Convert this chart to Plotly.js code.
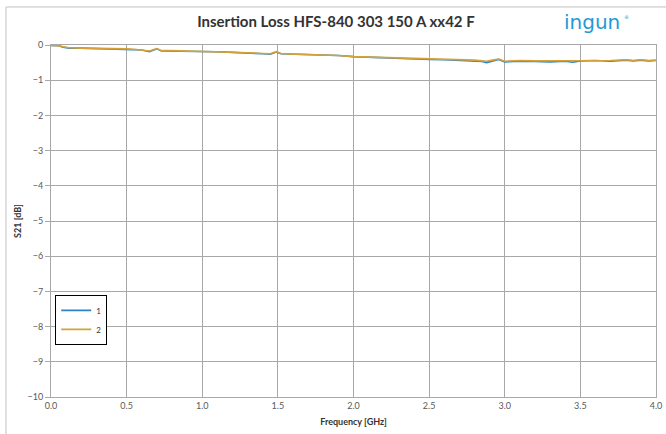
<!DOCTYPE html>
<html><head><meta charset="utf-8">
<script src="https://cdn.plot.ly/plotly-3.0.1.min.js"></script>
<style>html,body{margin:0;padding:0;background:#fff;}#chart{width:666px;height:434px;}</style>
</head><body><div id="chart"></div>
<script>
const freq = [0.0,0.05,0.08,0.12,0.2,0.3,0.4,0.5,0.55,0.6,0.65,0.7,0.73,0.8,0.9,1.0,1.1,1.2,1.3,1.4,1.45,1.49,1.52,1.6,1.7,1.8,1.9,2.0,2.1,2.2,2.3,2.4,2.5,2.6,2.7,2.8,2.85,2.88,2.92,2.96,3.0,3.05,3.1,3.2,3.3,3.4,3.45,3.5,3.6,3.7,3.8,3.85,3.9,3.95,4.0];
const s21_1 = [-0.01,-0.02,-0.06,-0.09,-0.09,-0.10,-0.10,-0.12,-0.13,-0.14,-0.19,-0.11,-0.17,-0.17,-0.18,-0.18,-0.19,-0.21,-0.22,-0.25,-0.26,-0.20,-0.25,-0.26,-0.27,-0.29,-0.30,-0.33,-0.35,-0.36,-0.38,-0.40,-0.41,-0.42,-0.44,-0.45,-0.47,-0.50,-0.45,-0.41,-0.48,-0.47,-0.46,-0.47,-0.48,-0.46,-0.49,-0.45,-0.44,-0.46,-0.43,-0.45,-0.43,-0.45,-0.44];
const s21_2 = [-0.01,-0.02,-0.05,-0.08,-0.09,-0.09,-0.10,-0.11,-0.12,-0.14,-0.17,-0.10,-0.16,-0.16,-0.17,-0.17,-0.19,-0.20,-0.22,-0.24,-0.25,-0.19,-0.24,-0.26,-0.27,-0.29,-0.30,-0.33,-0.34,-0.36,-0.37,-0.39,-0.40,-0.41,-0.42,-0.43,-0.45,-0.46,-0.43,-0.40,-0.46,-0.45,-0.44,-0.45,-0.45,-0.44,-0.45,-0.44,-0.43,-0.44,-0.42,-0.44,-0.42,-0.44,-0.43];
const seriesNames = ['1','2'];
const xTicks = [0,0.5,1,1.5,2,2.5,3,3.5,4];
const xTickText = ['0.0','0.5','1.0','1.5','2.0','2.5','3.0','3.5','4.0'];
const yTicks = [0,-1,-2,-3,-4,-5,-6,-7,-8,-9,-10];

const font = 'Lato, "Liberation Sans", sans-serif';
const traces = [
  {x: freq, y: s21_1, name: seriesNames[0], mode: 'lines', line: {color: '#2c83c6', width: 1.6}},
  {x: freq, y: s21_2, name: seriesNames[1], mode: 'lines', line: {color: '#d4a238', width: 1.6}}
];
const grid = '#a8a8a8';
const layout = {
  width: 666, height: 434,
  margin: {l: 51, r: 10, t: 45, b: 37},
  paper_bgcolor: '#fff', plot_bgcolor: '#fff',
  font: {family: font, color: '#595959', size: 9},
  title: {text: '<b>Insertion Loss HFS-840 303 150 A xx42 F</b>', font: {family: font, size: 15, color: '#333'},
          xref: 'paper', x: 0.471, xanchor: 'center', yref: 'container', y: 0.949, yanchor: 'middle'},
  xaxis: {range: [0, 4], tickvals: xTicks, ticktext: xTickText, showgrid: true, gridcolor: grid, gridwidth: 1,
          zeroline: false, showline: true, linecolor: grid, mirror: true, ticks: '', ticklen: 0,
          tickfont: {size: 9, color: '#595959'},
          title: {text: '<b>Frequency [GHz]</b>', font: {size: 9, color: '#333'}, standoff: 8}},
  yaxis: {range: [-10, 0], tickvals: yTicks, showgrid: true, gridcolor: grid, gridwidth: 1,
          zeroline: false, showline: true, linecolor: grid, mirror: true, ticks: 'outside', ticklen: 5, tickcolor: grid,
          tickfont: {size: 9, color: '#595959'},
          title: {text: '<b>S21 [dB]</b>', font: {size: 9, color: '#333'}, standoff: 4}},
  showlegend: true,
  legend: {x: 0.007, y: 0.29, xanchor: 'left', yanchor: 'top', bgcolor: '#fff', bordercolor: '#000', borderwidth: 1,
           font: {size: 8, color: '#333'}, tracegroupgap: 0, itemwidth: 30},
  shapes: [
    {type: 'line', xref: 'paper', yref: 'paper', x0: -0.0744, x1: 1.2, y0: 1.108, y1: 1.108, line: {color: '#c0c0c0', width: 1}},
    {type: 'line', xref: 'paper', yref: 'paper', x0: -0.0744, x1: -0.0744, y0: 1.108, y1: -0.3, line: {color: '#c0c0c0', width: 1}}
  ],
  annotations: [
    {text: 'ingun', xref: 'paper', yref: 'paper', x: 0.895, y: 1.065, xanchor: 'center', yanchor: 'middle',
     showarrow: false, font: {family: '"DejaVu Sans", sans-serif', size: 20, color: '#1e9ad6'}},
    {text: '®', xref: 'paper', yref: 'paper', x: 0.943, y: 1.08, xanchor: 'left', yanchor: 'middle',
     showarrow: false, font: {family: '"DejaVu Sans", sans-serif', size: 5, color: '#1e9ad6'}}
  ]
};
Plotly.newPlot('chart', traces, layout, {staticPlot: true, displayModeBar: false});
</script></body></html>
